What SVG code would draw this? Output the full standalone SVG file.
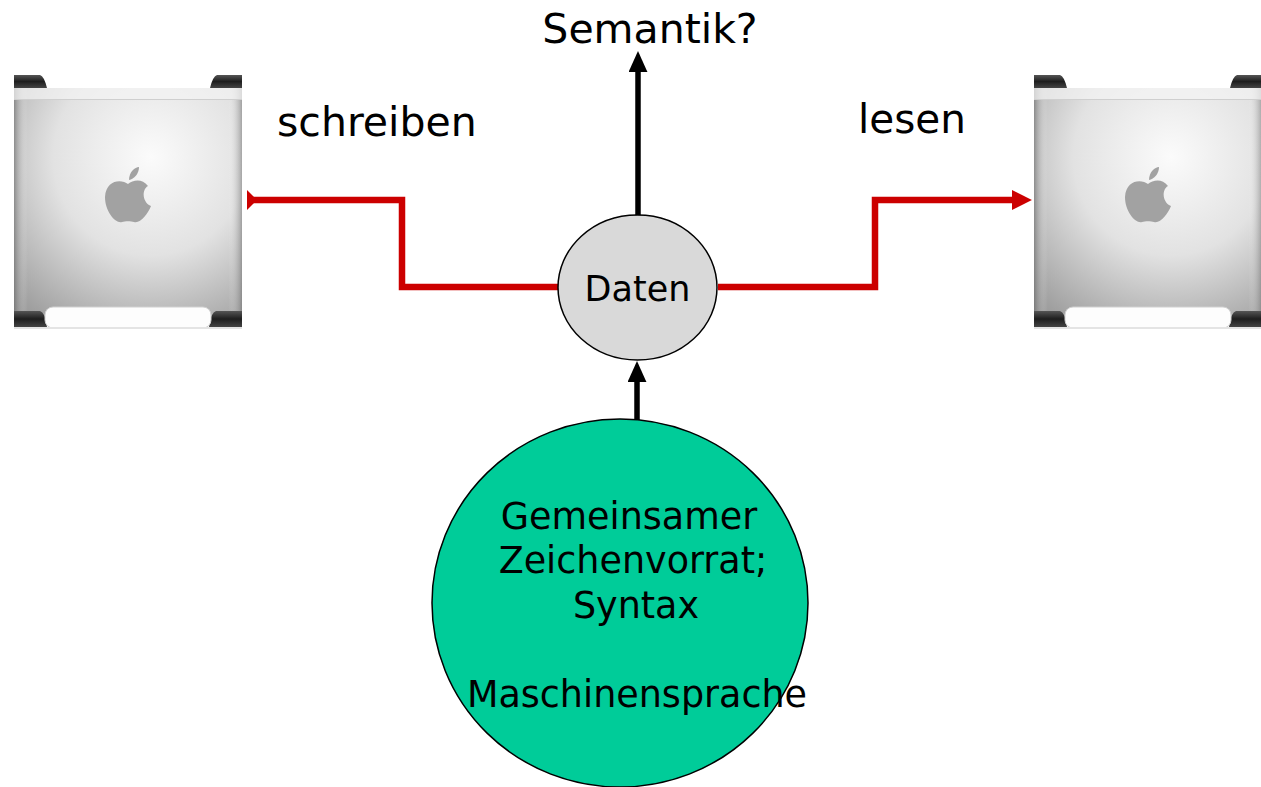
<svg xmlns="http://www.w3.org/2000/svg" xmlns:xlink="http://www.w3.org/1999/xlink" width="1261" height="787" viewBox="0 0 1261 787">
<style>
text{font-family:"DejaVu Sans","Liberation Sans",sans-serif;fill:#000}
.lbl{font-size:41px}
.big{font-size:36.5px;text-anchor:middle}
.red{fill:none;stroke:#CC0000;stroke-width:6.5}
.blk{fill:none;stroke:#000;stroke-width:5.5}
.handle{fill:url(#hg)}
</style>
<defs>
<radialGradient id="bodyg" cx="0.6" cy="0.3" r="0.95">
<stop offset="0" stop-color="#fbfbfb"/>
<stop offset="0.45" stop-color="#e2e2e2"/>
<stop offset="1" stop-color="#8e8e8e"/>
</radialGradient>
<linearGradient id="hg" x1="0" y1="0" x2="0" y2="1">
<stop offset="0" stop-color="#555"/>
<stop offset="0.5" stop-color="#1e1e1e"/>
<stop offset="1" stop-color="#444"/>
</linearGradient>
<linearGradient id="edge" x1="0" y1="0" x2="1" y2="0">
<stop offset="0" stop-color="#666" stop-opacity="0.6"/>
<stop offset="0.06" stop-color="#fff" stop-opacity="0"/>
<stop offset="0.94" stop-color="#fff" stop-opacity="0"/>
<stop offset="1" stop-color="#666" stop-opacity="0.5"/>
</linearGradient>
<g id="mac">
<path class="handle" d="M14 75 H40 Q44 76 47 88 H14 Z"/>
<path class="handle" d="M242 75 H217 Q213 76 210 88 H242 Z"/>
<rect x="14" y="88" width="228" height="230" fill="url(#bodyg)"/>
<rect x="14" y="88" width="228" height="230" fill="url(#edge)"/>
<rect x="14" y="88" width="228" height="11" fill="#f4f4f4" opacity="0.7"/>
<line x1="14" y1="99.5" x2="242" y2="99.5" stroke="#cfcfcf" stroke-width="1"/>
<path class="handle" d="M14 311 H40 Q45 312 47 327 H14 Z"/>
<path class="handle" d="M242 311 H216 Q211 312 209 327 H242 Z"/>
<rect x="45" y="307" width="166" height="21" rx="8" fill="#fdfdfd" stroke="#d0d0d0" stroke-width="1"/>
<rect x="14" y="327" width="228" height="2" fill="#e4e4e4"/>
<g transform="translate(128 194)" fill="#a2a2a2">
<path d="M0 -10 C-6 -15 -22 -15 -23 3 C-23 18 -12 30 -6 28 C-3 27 3 27 6 28 C12 30 20 20 23 12 C15 9 13 -4 20 -8 C14 -16 5 -14 0 -10 Z"/>
<path d="M1 -14 C1 -22 7 -27 11 -27 C11 -20 6 -15 1 -14 Z"/>
</g>
</g>
<marker id="redhead" markerUnits="userSpaceOnUse" markerWidth="20" markerHeight="20" viewBox="0 0 19 19" refX="1" refY="9.5" orient="auto">
<path d="M0 0 L19 9.5 L0 19 Z" fill="#CC0000"/>
</marker>
<marker id="blkhead" markerUnits="userSpaceOnUse" markerWidth="21" markerHeight="19" viewBox="0 0 20 18" refX="1" refY="9" orient="auto">
<path d="M0 0 L20 9 L0 18 Z" fill="#000"/>
</marker>
</defs>
<rect width="1261" height="787" fill="#fff"/>

<g id="computer-left"><use xlink:href="#mac" href="#mac"/></g>
<g id="computer-right"><use xlink:href="#mac" href="#mac" transform="translate(1020 0)"/></g>

<g id="connectors">
<path class="red" d="M558 287 H402 V200 H252"/>
<polygon points="247,190 247,210 257,200" fill="#CC0000"/>
<path class="red" d="M718 287 H875 V200 H1013" marker-end="url(#redhead)"/>
<line class="blk" x1="638" y1="216" x2="638" y2="71" marker-end="url(#blkhead)"/>
<line class="blk" x1="637" y1="420" x2="637" y2="381" marker-end="url(#blkhead)"/>
</g>

<g id="daten">
<ellipse cx="637.5" cy="287.5" rx="79.5" ry="72.5" fill="#D9D9D9" stroke="#000" stroke-width="1.5"/>
<text x="637.5" y="301" style="font-size:35px;text-anchor:middle">Daten</text>
</g>

<g id="syntax">
<ellipse cx="620" cy="603" rx="188" ry="184" fill="#00CC99" stroke="#000" stroke-width="1.5"/>
<text class="big" x="629" y="529">Gemeinsamer</text>
<text class="big" x="633" y="573">Zeichenvorrat;</text>
<text class="big" x="636" y="618">Syntax</text>
<text class="big" x="637" y="707">Maschinensprache</text>
</g>

<g id="labels">
<text class="lbl" x="650" y="43" text-anchor="middle">Semantik?</text>
<text class="lbl" x="277" y="136">schreiben</text>
<text class="lbl" x="858" y="133" style="font-size:40.5px">lesen</text>
</g>
</svg>
